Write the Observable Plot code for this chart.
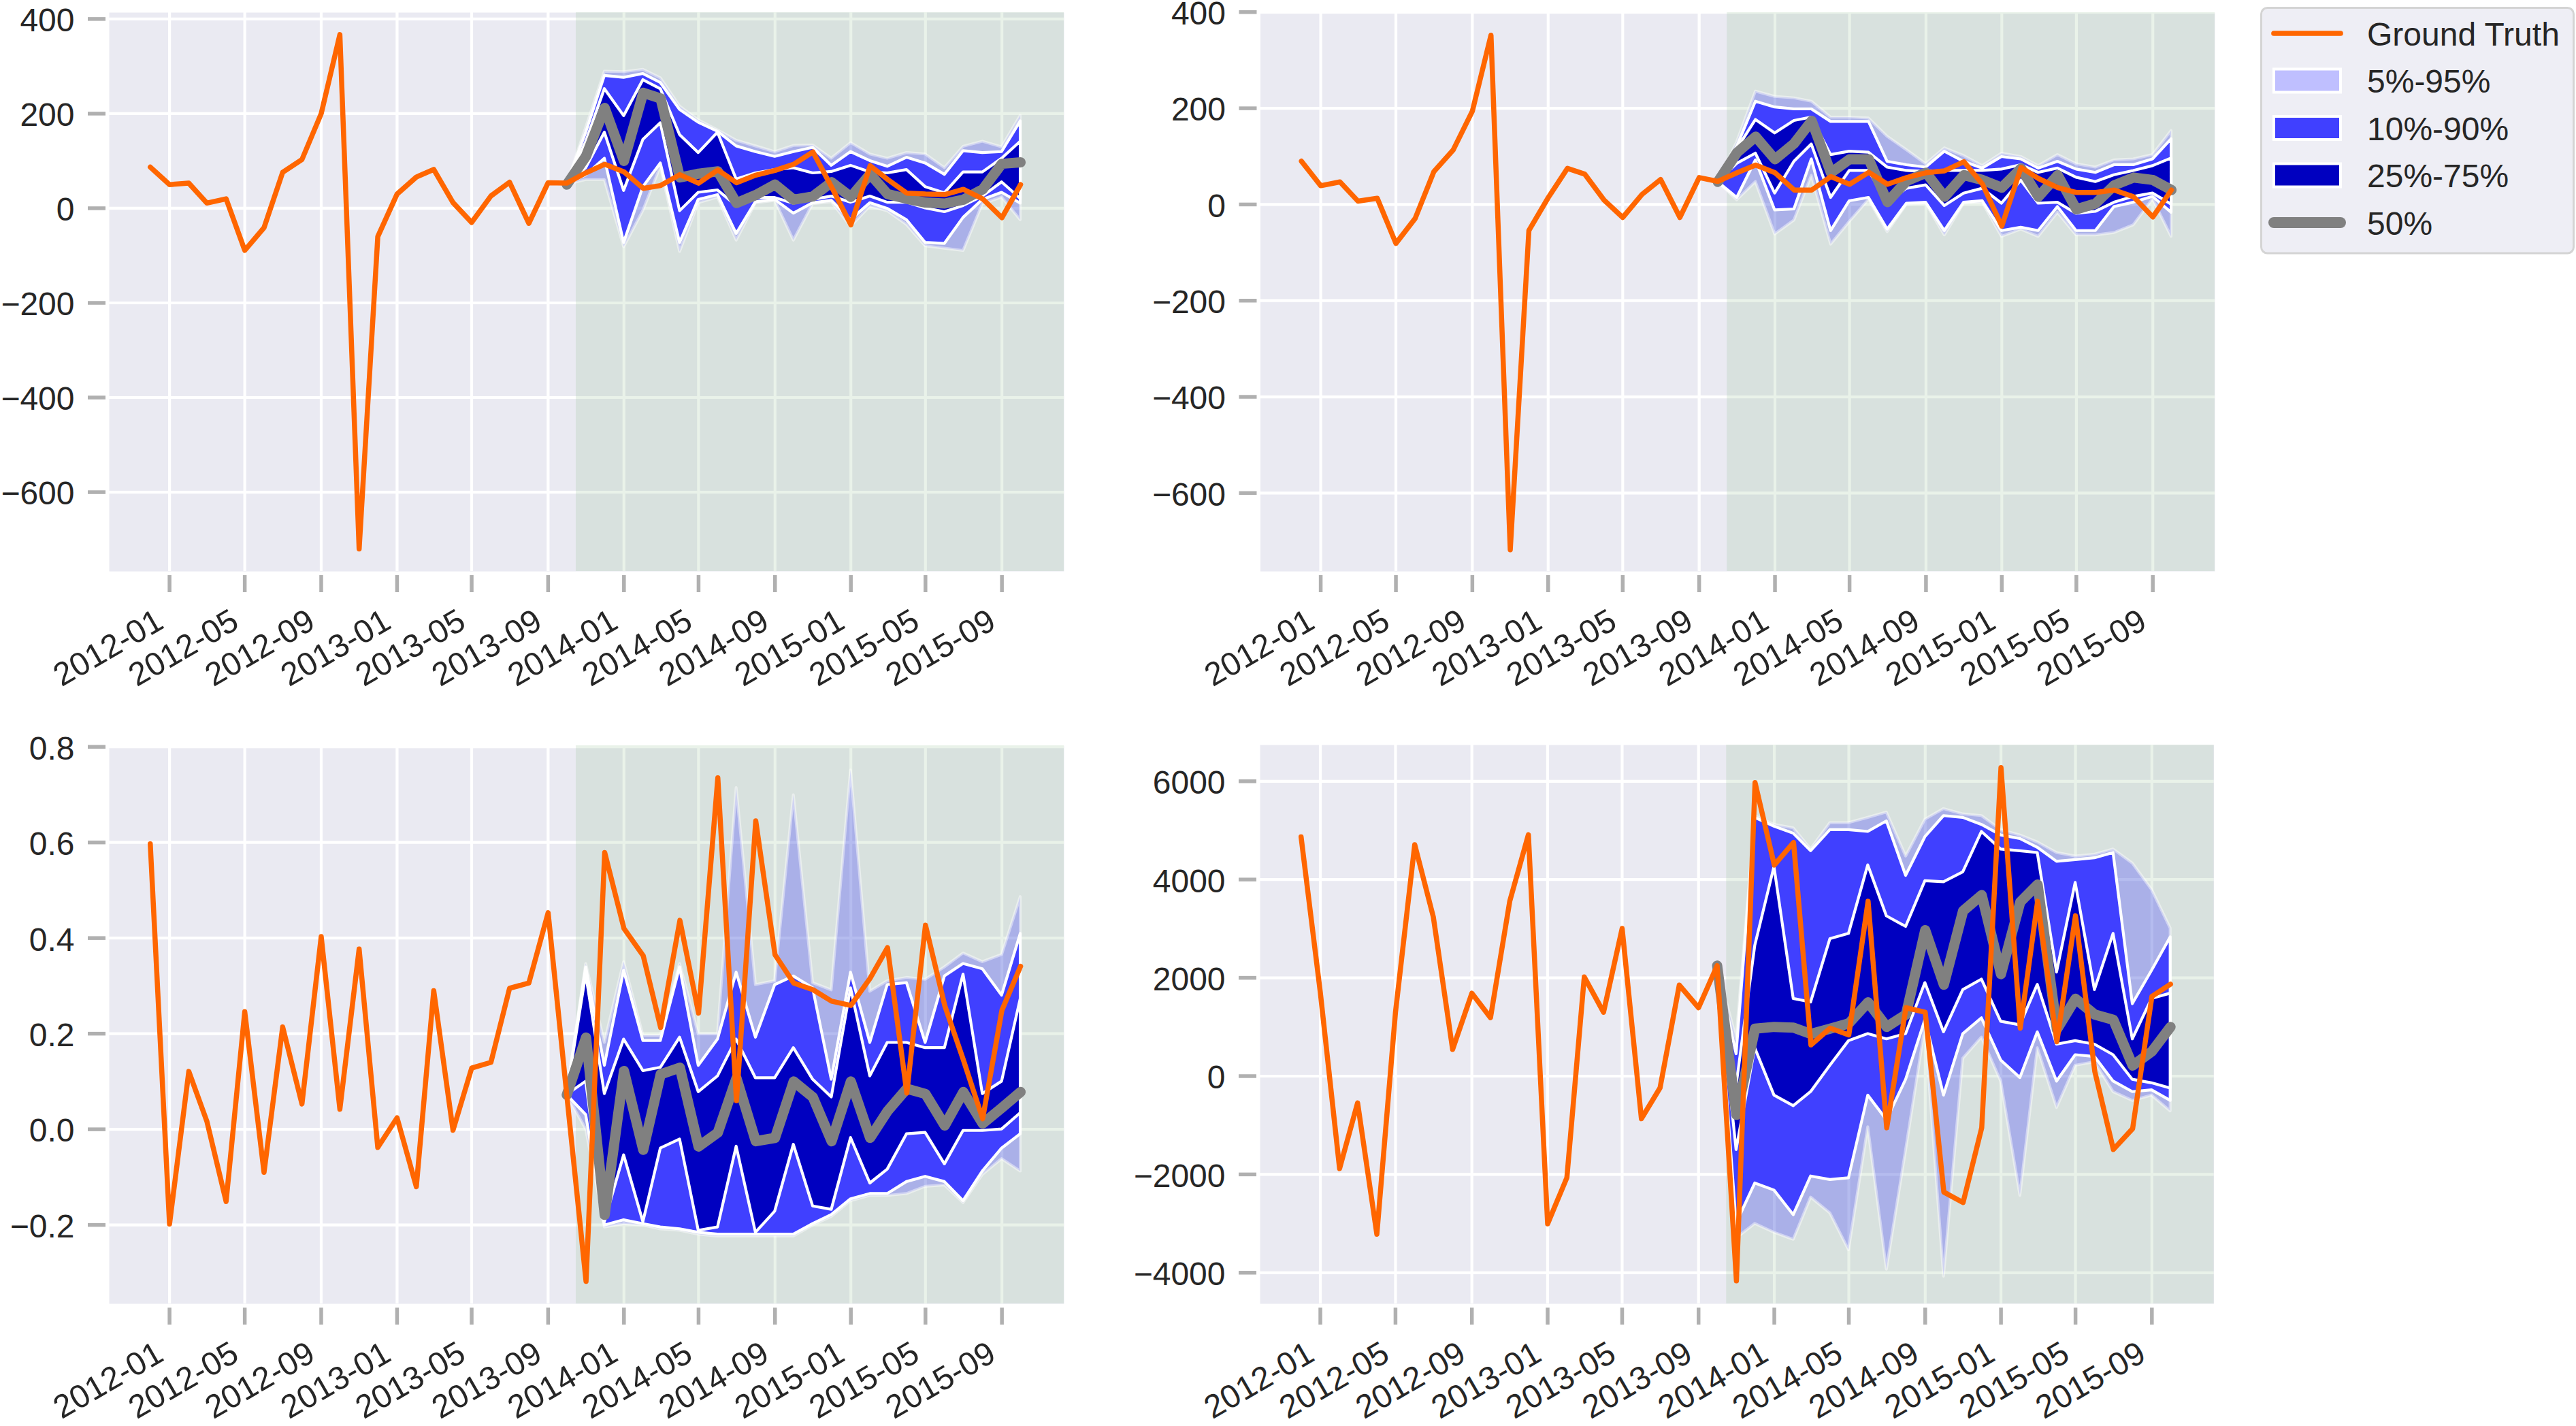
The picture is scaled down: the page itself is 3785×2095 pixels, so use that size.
<!DOCTYPE html>
<html>
<head>
<meta charset="utf-8">
<script src="https://cdn.jsdelivr.net/npm/d3@7"></script>
<script src="https://cdn.jsdelivr.net/npm/@observablehq/plot@0.6"></script>
<style>
  html, body { margin: 0; padding: 0; background: #ffffff; }
  #root { position: relative; width: 3785px; height: 2095px; overflow: hidden;
          font-family: "Liberation Sans", Arial, sans-serif; }
  .panel { position: absolute; }
  .panel svg { overflow: visible; }
  #legend { position: absolute; left: 3321px; top: 10px; }
</style>
</head>
<body>
<div id="root"></div>
<script>
// ---------- categories ----------
const months = ["2011-12","2012-01","2012-02","2012-03","2012-04","2012-05","2012-06","2012-07","2012-08","2012-09","2012-10","2012-11","2012-12",
  "2013-01","2013-02","2013-03","2013-04","2013-05","2013-06","2013-07","2013-08","2013-09","2013-10","2013-11","2013-12",
  "2014-01","2014-02","2014-03","2014-04","2014-05","2014-06","2014-07","2014-08","2014-09","2014-10","2014-11","2014-12",
  "2015-01","2015-02","2015-03","2015-04","2015-05","2015-06","2015-07","2015-08","2015-09","2015-10"];
const forecastMonths = months.slice(22); // 2013-10 .. 2015-10
const xTickLabels = ["2012-01","2012-05","2012-09","2013-01","2013-05","2013-09","2014-01","2014-05","2014-09","2015-01","2015-05","2015-09"];
const xDomainDates = ["2011-09-26","2015-12-10"];
const shadeDates = ["2013-10-16","2015-12-10"];

// ---------- panel A (top-left) ----------
const gtA = [87,50,53,11,20,-89,-41,76,103,200,367,-720,-60,30,66,82,12,-30,26,55,-32,54,
  53,75,93,77,42,48,71,53,81,54,70,80,93,119,45,-35,90,61,32,30,29,40,20,-20,50];
const q05A = [50,60,60,-82,-5,88,-92,11,23,-68,11,16,-68,9,13,-39,4,-6,-35,-80,-85,-90,9,23,-25];
const q10A = [50,70,105,-73,45,95,-73,18,28,-54,13,18,-11,11,16,-25,11,-1,-25,-73,-75,-20,18,33,10];
const q25A = [50,85,160,37,145,180,-6,33,38,5,22,22,10,18,25,12,25,12,12,0,-8,5,25,55,20];
const q50A = [50,110,212,100,244,232,65,73,78,11,28,50,18,25,55,24,72,30,20,12,10,18,40,94,97];
const q75A = [50,140,252,195,271,252,155,117,160,61,74,81,85,74,77,90,76,74,81,45,32,76,76,105,141];
const q90A = [50,160,280,276,284,265,208,181,162,131,119,109,119,128,90,119,100,88,107,95,71,121,117,119,184];
const q95A = [50,170,289,288,293,275,215,186,165,143,131,119,132,133,105,138,114,105,117,114,85,130,141,129,196];
const yTicksA = [-600,-400,-200,0,200,400];

// ---------- panel B (top-right) ----------
const gtB = [90,39,47,7,13,-81,-29,68,113,194,352,-718,-54,14,75,63,9,-27,21,52,-27,56,
  48,66,82,66,30,30,58,42,67,42,56,66,70,89,42,-45,77,54,35,25,25,30,16,-26,30];
const q05B = [47,9,47,-62,-33,60,-83,-36,10,-57,0,2,-64,2,4,-67,-52,-67,-17,-64,-64,-59,-43,11,-67];
const q10B = [47,14,92,-12,-10,94,-55,7,14,-52,2,4,-55,4,7,-55,-48,-55,-5,-55,-55,-5,4,16,-17];
const q25B = [47,85,106,23,89,125,14,70,70,4,33,40,-3,23,33,2,50,2,4,-19,-15,4,16,23,0];
const q50B = [47,108,141,94,127,174,66,94,94,5,49,66,16,61,51,35,75,16,61,-10,2,40,56,51,30];
const q75B = [47,115,176,148,174,181,103,110,108,77,70,68,70,70,70,73,82,66,75,56,47,61,70,80,96];
const q90B = [47,120,214,202,198,198,172,172,172,89,82,77,110,89,75,99,94,75,89,73,66,82,82,94,136];
const q95B = [47,130,235,224,221,214,181,181,179,141,113,84,117,101,80,106,99,80,103,84,77,92,94,103,153];
const yTicksB = [-600,-400,-200,0,200,400];

// ---------- panel C (bottom-left) ----------
const gtC = [0.597,-0.198,0.121,0.017,-0.151,0.246,-0.09,0.214,0.053,0.403,0.042,0.377,-0.038,0.024,-0.12,0.29,-0.002,0.128,0.14,0.295,0.306,0.453,
  0.072,-0.318,0.579,0.42,0.363,0.213,0.437,0.243,0.735,0.06,0.645,0.365,0.306,0.292,0.268,0.259,0.316,0.38,0.076,0.427,0.259,0.145,0.022,0.249,0.341];
const q05C = [0.072,0.0,-0.205,-0.198,-0.201,-0.209,-0.212,-0.22,-0.224,-0.224,-0.224,-0.224,-0.224,-0.201,-0.183,-0.15,-0.139,-0.139,-0.135,-0.12,-0.117,-0.154,-0.095,-0.062,-0.088];
const q10C = [0.072,0.03,-0.201,-0.19,-0.198,-0.205,-0.209,-0.216,-0.22,-0.22,-0.22,-0.22,-0.22,-0.198,-0.179,-0.146,-0.135,-0.135,-0.11,-0.099,-0.11,-0.15,-0.088,-0.04,-0.01];
const q25C = [0.072,0.1,-0.194,-0.054,-0.194,-0.04,-0.021,-0.212,-0.205,-0.036,-0.216,-0.172,-0.032,-0.161,-0.168,-0.018,-0.113,-0.084,-0.01,-0.007,-0.073,-0.003,-0.003,0.0,0.034];
const q50C = [0.072,0.192,-0.179,0.122,-0.043,0.115,0.129,-0.036,-0.007,0.107,-0.025,-0.018,0.1,0.067,-0.025,0.1,-0.018,0.038,0.085,0.074,0.008,0.078,0.012,0.045,0.078];
const q75C = [0.072,0.324,0.074,0.188,0.122,0.129,0.192,0.078,0.111,0.188,0.107,0.107,0.17,0.104,0.067,0.295,0.111,0.181,0.181,0.17,0.17,0.324,0.074,0.1,0.273];
const q90C = [0.072,0.339,0.133,0.332,0.185,0.185,0.339,0.133,0.188,0.328,0.192,0.302,0.32,0.295,0.104,0.328,0.181,0.302,0.306,0.181,0.32,0.346,0.335,0.28,0.409];
const q95C = [0.072,0.346,0.181,0.35,0.196,0.196,0.346,0.199,0.199,0.714,0.302,0.31,0.699,0.306,0.291,0.751,0.288,0.31,0.317,0.313,0.339,0.368,0.35,0.365,0.486];
const yTicksC = [-0.2,0,0.2,0.4,0.6,0.8];

// ---------- panel D (bottom-right) ----------
const gtD = [4867,1700,-1880,-544,-3217,1300,4710,3235,544,1687,1189,3558,4913,-3005,-2065,2019,1300,3005,-866,-240,1853,1392,
  2249,-4166,5973,4295,4756,636,977,839,3558,-1051,1392,1300,-2360,-2572,-1051,6277,977,3558,700,3263,100,-1493,-1069,1622,1871];
const q05D = [2249,-3300,-3005,-3184,-3327,-2468,-2790,-3541,-1037,-3935,-1502,1000,-4078,358,787,-107,-2432,572,-644,215,286,-322,-501,-393,-715];
const q10D = [2249,-3000,-2182,-2325,-2826,-2039,-2110,-2075,-393,-894,-72,1145,-393,858,1180,322,-36,894,-107,429,393,-107,-322,-286,-501];
const q25D = [2249,-1500,572,-393,-608,-322,215,715,858,751,858,1896,894,1753,1967,1109,1037,1860,644,715,644,429,-72,-143,-250];
const q50D = [2249,-787,966,1002,987,858,966,1073,1502,1002,1252,2969,1860,3362,3684,2075,3541,3899,950,1574,1252,1145,215,501,1002];
const q75D = [2249,-200,2647,4257,1574,1502,2790,2897,4292,3255,3040,3970,3949,4149,4972,4614,4579,4543,2110,3935,1753,2897,751,1574,1681];
const q90D = [2249,450,5258,5079,4936,4579,5008,5008,4972,5187,4078,4865,5294,5258,5115,4900,4829,4650,4364,4400,4436,4543,1467,2146,2826];
const q95D = [2249,750,5294,5115,5044,4614,5151,5151,5258,5366,4471,5222,5437,5330,5294,5008,4900,4757,4543,4471,4507,4614,4328,3792,3005];
const yTicksD = [-4000,-2000,0,2000,4000,6000];

// ---------- legend ----------
const legendLabels = ["Ground Truth","5%-95%","10%-90%","25%-75%","50%"];

// ---------- build ----------
const parseM = d3.utcParse("%Y-%m");
const parseD = d3.utcParse("%Y-%m-%d");
const fmtX = d3.utcFormat("%Y-%m");
const xTicks = xTickLabels.map(parseM);
const xDomain = xDomainDates.map(parseD);
const shade = [{x1: parseD(shadeDates[0]), x2: parseD(shadeDates[1])}];

const C_PALE = "#4040ff", C_MID = "#4040ff", C_DARK = "#0000c0", C_MED = "#808080", C_GT = "#ff6600";
const TEXT = "#262626", TICK = "#b0b0b0";

const panels = [
  {sx: 0,    sy: 0,    mL: 160,   mT: 18, fw: 1403,   fh: 821, yDomain: [-767.5, 413.5], yTicks: yTicksA, fmt: d3.format("d"),
   gt: gtA, q: [q05A,q10A,q25A,q50A,q75A,q90A,q95A]},
  {sx: 1690, sy: 0,    mL: 161.5, mT: 18, fw: 1402.5, fh: 821, yDomain: [-763, 399], yTicks: yTicksB, fmt: d3.format("d"),
   gt: gtB, q: [q05B,q10B,q25B,q50B,q75B,q90B,q95B]},
  {sx: 0,    sy: 1050, mL: 160,   mT: 45, fw: 1403,   fh: 820, yDomain: [-0.365, 0.8024], yTicks: yTicksC, fmt: d3.format(".1f"),
   gt: gtC, q: [q05C,q10C,q25C,q50C,q75C,q90C,q95C]},
  {sx: 1690, sy: 1050, mL: 161,   mT: 44, fw: 1401.6, fh: 821, yDomain: [-4633, 6738], yTicks: yTicksD, fmt: d3.format("d"),
   gt: gtD, q: [q05D,q10D,q25D,q50D,q75D,q90D,q95D]}
];

const root = document.getElementById("root");
const mR = 30;

for (const p of panels) {
  const mB = p.sy === 0 ? 200 : 180;
  const W = p.mL + p.fw + mR;
  const H = p.mT + p.fh + mB;
  const gt = months.map((m, i) => ({date: parseM(m), v: p.gt[i]}));
  const fc = forecastMonths.map((m, i) => ({
    date: parseM(m),
    q05: p.q[0][i], q10: p.q[1][i], q25: p.q[2][i], q50: p.q[3][i],
    q75: p.q[4][i], q90: p.q[5][i], q95: p.q[6][i]
  }));
  const chart = Plot.plot({
    width: W, height: H,
    marginLeft: p.mL, marginRight: mR, marginTop: p.mT, marginBottom: mB,
    x: {type: "utc", domain: xDomain, axis: null},
    y: {domain: p.yDomain, axis: null},
    style: {fontFamily: '"Liberation Sans", Arial, sans-serif', fontSize: "48px", background: "transparent", overflow: "visible", color: TEXT},
    marks: [
      Plot.frame({fill: "#eaeaf2", stroke: "none"}),
      Plot.gridX(xTicks, {stroke: "#ffffff", strokeOpacity: 1, strokeWidth: 4.2}),
      Plot.gridY(p.yTicks, {stroke: "#ffffff", strokeOpacity: 1, strokeWidth: 4.2}),
      Plot.rect(shade, {x1: "x1", x2: "x2", fill: "darkseagreen", fillOpacity: 0.2}),
      Plot.areaY(fc, {x: "date", y1: "q05", y2: "q95", fill: C_PALE, fillOpacity: 0.3,
        stroke: "#ffffff", strokeOpacity: 0.45, strokeWidth: 4.2}),
      Plot.areaY(fc, {x: "date", y1: "q10", y2: "q90", fill: C_MID, stroke: "#ffffff", strokeWidth: 4.2}),
      Plot.areaY(fc, {x: "date", y1: "q25", y2: "q75", fill: C_DARK, stroke: "#ffffff", strokeWidth: 4.2}),
      Plot.line(fc, {x: "date", y: "q50", stroke: C_MED, strokeWidth: 15, strokeLinecap: "round", strokeLinejoin: "round"}),
      Plot.line(gt, {x: "date", y: "v", stroke: C_GT, strokeWidth: 7.5, strokeLinecap: "round", strokeLinejoin: "round"}),
      Plot.axisX(xTicks, {tickSize: 25, fill: "none", stroke: TICK, strokeWidth: 5.5, dy: 6, label: null}),
      Plot.axisY(p.yTicks, {tickSize: 26, fill: "none", stroke: TICK, strokeWidth: 5.5, dx: -5, label: null}),
      Plot.text(xTicks, {x: d => d, frameAnchor: "bottom", text: d => fmtX(d), rotate: -30,
        textAnchor: "end", lineAnchor: "bottom", dx: -6, dy: 82, fontSize: 48, fill: TEXT}),
      Plot.text(p.yTicks, {y: d => d, frameAnchor: "left", text: d => p.fmt(d),
        textAnchor: "end", lineAnchor: "middle", dx: -51, dy: 3, fontSize: 48, fill: TEXT})
    ]
  });
  const div = document.createElement("div");
  div.className = "panel";
  div.style.left = p.sx + "px";
  div.style.top = p.sy + "px";
  div.appendChild(chart);
  root.appendChild(div);
}

// legend (HTML-side SVG, positioned to the right of the top-right panel)
const legendStyles = [
  {kind: "line", color: C_GT, width: 7.7},
  {kind: "patch", color: "#bfbfff"},
  {kind: "patch", color: "#4040ff"},
  {kind: "patch", color: "#0000c0"},
  {kind: "line", color: C_MED, width: 16}
];
const rowY = [39, 108.5, 178, 247.5, 317];
const ns = "http://www.w3.org/2000/svg";
const lg = document.createElementNS(ns, "svg");
lg.setAttribute("id", "legend");
lg.setAttribute("width", 464);
lg.setAttribute("height", 366);
lg.style.position = "absolute";
lg.style.left = "3321px";
lg.style.top = "10px";
function el(tag, attrs, txt) {
  const e = document.createElementNS(ns, tag);
  for (const k in attrs) e.setAttribute(k, attrs[k]);
  if (txt != null) e.textContent = txt;
  lg.appendChild(e);
  return e;
}
el("rect", {x: 1.5, y: 1.5, width: 459, height: 360.5, rx: 9, ry: 9, fill: "#eeeef5", stroke: "#d4d4d4", "stroke-width": 3});
legendLabels.forEach((lab, i) => {
  const s = legendStyles[i], cy = rowY[i];
  if (s.kind === "line") {
    el("line", {x1: 20, x2: 118, y1: cy, y2: cy, stroke: s.color, "stroke-width": s.width, "stroke-linecap": "round"});
  } else {
    el("rect", {x: 20, y: cy - 17, width: 98, height: 34, fill: s.color, stroke: "#ffffff", "stroke-width": 4});
  }
  el("text", {x: 157, y: cy + 17.7, fill: TEXT, "font-size": 48, "font-family": '"Liberation Sans", Arial, sans-serif'}, lab);
});
root.appendChild(lg);
</script>
</body>
</html>
